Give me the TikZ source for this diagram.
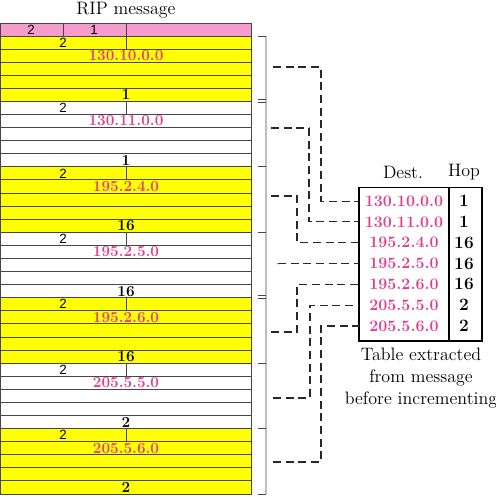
\documentclass[tikz,border=0pt]{standalone}
\usepackage{fontspec}
\newfontfamily\ripsans{Liberation Sans}
\usetikzlibrary{positioning}
\definecolor{ripyellow}{RGB}{255,255,0}
\definecolor{rippink}{RGB}{245,155,205}
\definecolor{addrpink}{RGB}{226,62,140}
\definecolor{linegray}{RGB}{70,70,70}
\definecolor{brackgray}{RGB}{190,190,190}
\definecolor{dashgray}{RGB}{40,40,40}

\begin{document}
\begin{tikzpicture}[x=0.75pt,y=0.75pt,yscale=-1,xscale=1,
  ripline/.style={draw=linegray,line width=0.7pt},
  famtext/.style={inner sep=0pt,font=\ripsans\fontsize{10pt}{11pt}\selectfont},
  addrtext/.style={inner sep=0pt,text=addrpink,font=\bfseries\fontsize{11.5pt}{13pt}\selectfont},
  mettext/.style={inner sep=0pt,font=\bfseries\fontsize{11.5pt}{13pt}\selectfont},
  headtext/.style={inner sep=0pt,font=\fontsize{13.5pt}{16pt}\selectfont},
  destcell/.style={inner sep=0pt,minimum width=67.5pt,minimum height=15.6pt,text=addrpink,font=\bfseries\fontsize{12pt}{14pt}\selectfont},
  hopcell/.style={inner sep=0pt,minimum width=24pt,minimum height=15.6pt,font=\bfseries\fontsize{13pt}{15pt}\selectfont},
  conn/.style={draw=dashgray,line width=0.8pt,dash pattern=on 6pt off 3.5pt},
  bracket/.style={draw=brackgray,line width=1.5pt},
  brtick/.style={draw=linegray,line width=0.6pt}]
\useasboundingbox (0,0) rectangle (496,497);

% Text Node
\node[headtext] (title) at (126,10) {RIP message};

%Shape: header row
\fill[rippink] (0,23) rectangle (251,36);
\draw[ripline] (0,23) rectangle (251,36);
\draw[ripline] (63,23) -- (63,36);
\draw[ripline] (126,23) -- (126,36);
\node[famtext] (cmd) at (31,29.5) {2};
\node[famtext] (ver) at (94,29.5) {1};

%Shape: entries, five rows each
\foreach \addr/\met/\fillc [count=\i] in {130.10.0.0/1/ripyellow,130.11.0.0/1/white,195.2.4.0/16/ripyellow,195.2.5.0/16/white,195.2.6.0/16/ripyellow,205.5.5.0/2/white,205.5.6.0/2/ripyellow}{
  \pgfmathsetmacro{\ty}{36+(\i-1)*65.43}
  \fill[\fillc] (0,\ty) rectangle (251,\ty+65.43);
  \foreach \r in {0,...,4}
    \draw[ripline] (0,\ty+\r*13.086) -- (251,\ty+\r*13.086);
  \draw[ripline] (126,\ty) -- (126,\ty+13.086);
  \node[famtext] (fam\i) at (63,\ty+6.5) {2};
  \node[addrtext] (addr\i) at (126,\ty+19.6) {\addr};
  \node[mettext] (met\i) at (126,\ty+58.9) {\met};
}
\draw[ripline] (0,23) rectangle (251,494);

%Straight Lines: bracket
\draw[bracket] (266,36) -- (266,494);
\foreach \y in {36,99.5,102,166,232,295.5,298,363,428,494}
  \draw[brtick] (258,\y) -- (266,\y);

% Text Node
\node[headtext] (desthead) at (403,172) {Dest.};
\node[headtext] (hophead) at (464,172) {Hop};

%Shape: extracted table
\draw[line width=1.4pt] (359,187.5) rectangle (482,341);
\draw[line width=1.4pt] (449,187.5) -- (449,341);
\foreach \addr/\hop [count=\i] in {130.10.0.0/1,130.11.0.0/1,195.2.4.0/16,195.2.5.0/16,195.2.6.0/16,205.5.5.0/2,205.5.6.0/2}{
  \node[destcell] (d\i) at (404,180.2+\i*20.83) {\addr};
  \node[hopcell] (h\i) at (464,180.2+\i*20.83) {\hop};
}

% Text Node
\node[headtext,align=center,font=\fontsize{13.5pt}{16.5pt}\selectfont] (caption) at (421,378) {Table extracted\\from message\\before incrementing};

%Straight Lines: dashed links
\foreach \sx/\sy/\tx [count=\i] in {273/67/321,271/128/309,271/196/297,278/263.5/278,271/332/297,273/398/310,273/462/321}{
  \coordinate (src\i) at (\sx,\sy);
  \draw[conn] (src\i) -- (\tx,\sy) |- (d\i.west);
}

\end{tikzpicture}
\end{document}
